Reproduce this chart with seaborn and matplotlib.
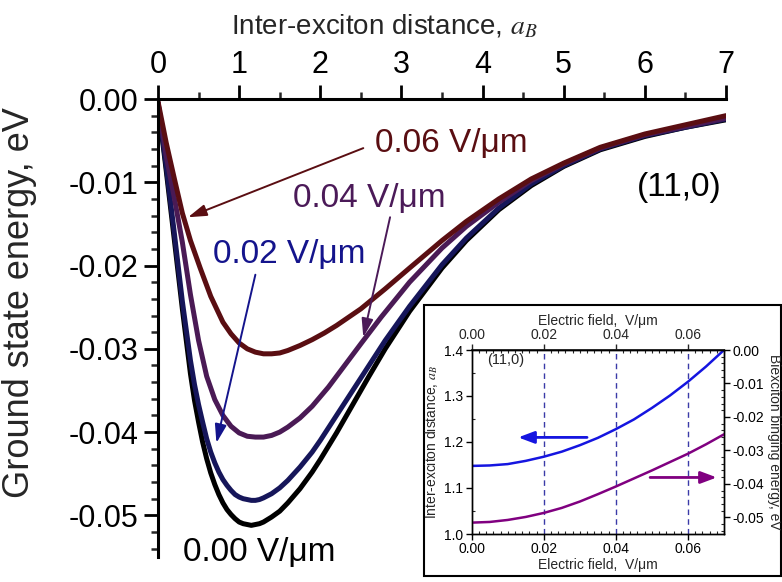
import pandas as pd
import seaborn as sns
import matplotlib.pyplot as plt
from matplotlib.patches import Rectangle
from matplotlib.ticker import MultipleLocator, FuncFormatter

# ---- main panel: ground state energy vs inter-exciton distance ----
field_labels = ["0.00 V/μm", "0.02 V/μm", "0.04 V/μm", "0.06 V/μm"]

dist_000 = [0, 0.1, 0.2, 0.3, 0.4, 0.45, 0.5, 0.55, 0.6, 0.65, 0.7, 0.75, 0.8,
            0.85, 0.9, 0.95, 1.0, 1.05, 1.1, 1.15, 1.2, 1.25, 1.3, 1.4, 1.5,
            1.6, 1.75, 1.9, 2.0, 2.2, 2.4, 2.6, 2.8, 3.1, 3.5, 3.8, 4.2, 4.6,
            5.0, 5.45, 6.0, 6.5, 7.0]
energy_000 = [-0.0005, -0.0085, -0.0168, -0.0252, -0.0330, -0.0362, -0.0388,
              -0.0412, -0.0432, -0.0449, -0.0463, -0.0475, -0.0485, -0.0493,
              -0.0499, -0.0504, -0.0508, -0.0510, -0.0511, -0.0512, -0.0511,
              -0.0510, -0.0508, -0.0502, -0.0495, -0.0485, -0.0468, -0.0448,
              -0.0433, -0.0401, -0.0367, -0.0333, -0.0300, -0.0255, -0.0203,
              -0.0170, -0.0133, -0.0104, -0.0081, -0.0061, -0.0045, -0.0034,
              -0.0025]

dist_002 = dist_000
energy_002 = [-0.0005, -0.0080, -0.0160, -0.0243, -0.0314, -0.0343, -0.0367,
              -0.0388, -0.0408, -0.0424, -0.0437, -0.0448, -0.0457, -0.0464,
              -0.0470, -0.0475, -0.0478, -0.0480, -0.0481, -0.0482, -0.0482,
              -0.0481, -0.0479, -0.0474, -0.0467, -0.0458, -0.0442, -0.0424,
              -0.0410, -0.0380, -0.0350, -0.0320, -0.0290, -0.0249, -0.0199,
              -0.0167, -0.0131, -0.0102, -0.0080, -0.0060, -0.0044, -0.0034,
              -0.0024]

dist_004 = [0, 0.1, 0.2, 0.3, 0.4, 0.5, 0.6, 0.7, 0.8, 0.9, 1.0, 1.1, 1.2, 1.3,
            1.4, 1.5, 1.6, 1.75, 1.9, 2.1, 2.3, 2.5, 2.75, 3.1, 3.5, 3.8, 4.2,
            4.6, 5.0, 5.45, 6.0, 6.5, 7.0]
energy_004 = [-0.0004, -0.0068, -0.0118, -0.0172, -0.0235, -0.0290, -0.0333,
              -0.0361, -0.0380, -0.0393, -0.0401, -0.0405, -0.0406, -0.0406,
              -0.0404, -0.0400, -0.0394, -0.0383, -0.0369, -0.0346, -0.0320,
              -0.0294, -0.0262, -0.0220, -0.0179, -0.0153, -0.0124, -0.0098,
              -0.0078, -0.0059, -0.0043, -0.0033, -0.0023]

dist_006 = [0, 0.1, 0.2, 0.3, 0.4, 0.52, 0.65, 0.8, 0.9, 1.0, 1.1, 1.2, 1.3,
            1.4, 1.5, 1.6, 1.75, 1.9, 2.05, 2.2, 2.5, 2.8, 3.1, 3.5, 3.8, 4.2,
            4.6, 5.0, 5.45, 6.0, 6.5, 7.0]
energy_006 = [-0.0003, -0.0052, -0.0095, -0.0137, -0.0170, -0.0203, -0.0237,
              -0.0268, -0.0282, -0.0293, -0.0300, -0.0304, -0.0306, -0.0306,
              -0.0305, -0.0302, -0.0296, -0.0289, -0.0281, -0.0272, -0.0252,
              -0.0228, -0.0203, -0.0170, -0.0147, -0.0120, -0.0096, -0.0077,
              -0.0058, -0.0042, -0.0031, -0.0020]

# ---- inset: vs electric field ----
field = [0, 0.005, 0.01, 0.015, 0.02, 0.025, 0.03, 0.035, 0.04, 0.045, 0.05,
         0.055, 0.06, 0.065, 0.07]
distance_min = [1.148, 1.149, 1.152, 1.159, 1.168, 1.179, 1.193, 1.209, 1.228,
                1.249, 1.274, 1.301, 1.331, 1.364, 1.400]
binding_energy = [-0.0516, -0.0514, -0.0508, -0.0499, -0.0487, -0.0472, -0.0453,
                  -0.0431, -0.0408, -0.0384, -0.0360, -0.0335, -0.0310, -0.0282,
                  -0.0252]
guide_fields = [0.02, 0.04, 0.06]

curve_colors = ["#000000", "#16165a", "#4a1a55", "#5a0e12"]
text_colors = ["#000000", "#14148c", "#4b1a58", "#5a0e12"]


def fmt(decimals):
    # plain hyphen minus and no "-0.00"
    def f(v, pos):
        if abs(v) < 1e-9:
            v = 0.0
        return f"{v:.{decimals}f}"
    return FuncFormatter(f)


sns.set_theme(style="ticks")
plt.rcParams["font.family"] = ["Liberation Sans", "DejaVu Sans"]
plt.rcParams["mathtext.fontset"] = "stix"
plt.rcParams["axes.unicode_minus"] = False

fig = plt.figure(figsize=(7.82, 5.82), dpi=100)
ax = fig.add_axes([158 / 782, 1 - 557 / 582, 568 / 782, 458 / 582])

frames = []
for lab, xs, es in zip(field_labels, [dist_000, dist_002, dist_004, dist_006],
                       [energy_000, energy_002, energy_004, energy_006]):
    frames.append(pd.DataFrame({"distance": xs, "energy": es, "field": lab}))
df_main = pd.concat(frames, ignore_index=True)

sns.lineplot(data=df_main, x="distance", y="energy", hue="field",
             hue_order=field_labels, palette=curve_colors, estimator=None,
             sort=False, linewidth=3.6, legend=False, ax=ax)
for line in ax.lines:
    line.set_solid_joinstyle("round")

ax.set_xlim(0, 7)
ax.set_ylim(-0.055, 0)
ax.xaxis.tick_top()
ax.xaxis.set_label_position("top")
ax.spines["bottom"].set_visible(False)
ax.spines["right"].set_visible(False)
for s in ["top", "left"]:
    ax.spines[s].set_linewidth(2.2)
    ax.spines[s].set_color("black")
ax.xaxis.set_major_locator(MultipleLocator(1))
ax.xaxis.set_minor_locator(MultipleLocator(0.5))
ax.yaxis.set_major_locator(MultipleLocator(0.01))
ax.yaxis.set_minor_locator(MultipleLocator(0.002))
ax.yaxis.set_major_formatter(fmt(2))
ax.tick_params(which="major", direction="out", length=10, width=2,
               labelsize=22, colors="black", pad=4)
ax.tick_params(which="minor", direction="out", length=5, width=1.8)
ax.tick_params(axis="x", which="both", top=True, bottom=False,
               labeltop=True, labelbottom=False)
ax.set_xlabel(r"Inter-exciton distance, $a_B$", fontsize=20)
ax.xaxis.set_label_coords(0.398, 1.14)
ax.set_ylabel("Ground state energy, eV", fontsize=26)
ax.yaxis.set_label_coords(-0.213, 0.555)

# curve labels and arrows
ax.text(2.68, -0.0053, field_labels[3], color=text_colors[3], fontsize=24,
        ha="left", va="center")
ax.text(1.665, -0.0119, field_labels[2], color=text_colors[2], fontsize=24,
        ha="left", va="center")
ax.text(0.68, -0.0187, field_labels[1], color=text_colors[1], fontsize=24,
        ha="left", va="center")
ax.text(0.31, -0.0545, field_labels[0], color=text_colors[0], fontsize=24,
        ha="left", va="center", clip_on=False)
ax.text(5.9, -0.0106, "(11,0)", color="black", fontsize=24,
        ha="left", va="center")

arrow_kw = dict(arrowstyle="-|>,head_length=0.7,head_width=0.22",
                lw=1.4, mutation_scale=16, shrinkA=0, shrinkB=0)
ax.annotate("", xy=(0.37, -0.0142), xytext=(2.53, -0.0059),
            arrowprops=dict(color=text_colors[3], **arrow_kw))
ax.annotate("", xy=(2.53, -0.0286), xytext=(2.86, -0.0142),
            arrowprops=dict(color=text_colors[2], **arrow_kw))
ax.annotate("", xy=(0.72, -0.0413), xytext=(1.20, -0.0211),
            arrowprops=dict(color=text_colors[1], **arrow_kw))

# ---- inset ----
box = Rectangle((424 / 782, 1 - 576 / 582), 357 / 782, 271 / 582,
                transform=fig.transFigure, facecolor="white",
                edgecolor="black", lw=1.5, zorder=2)
fig.add_artist(box)

ax_in = fig.add_axes([471.7 / 782, 1 - 534 / 582, 252.3 / 782, 184 / 582])
ax_in.set_zorder(3)
ax_r = ax_in.twinx()
ax_r.set_zorder(4)

df_in = pd.DataFrame({"field": field, "distance": distance_min,
                      "binding": binding_energy})
for f in guide_fields:
    ax_in.axvline(f, color="#3a3aa8", lw=1, ls=(0, (4, 3)))
sns.lineplot(data=df_in, x="field", y="distance", color="#1515e0",
             linewidth=1.8, ax=ax_in)
sns.lineplot(data=df_in, x="field", y="binding", color="#800080",
             linewidth=1.8, ax=ax_r)

ax_in.set_xlim(0, 0.07)
ax_in.set_ylim(1.0, 1.4)
ax_r.set_ylim(-0.055, 0)
ax_in.xaxis.set_major_locator(MultipleLocator(0.02))
ax_in.xaxis.set_minor_locator(MultipleLocator(0.002))
ax_in.xaxis.set_major_formatter(fmt(2))
ax_in.yaxis.set_major_locator(MultipleLocator(0.1))
ax_in.yaxis.set_minor_locator(MultipleLocator(0.05))
ax_in.yaxis.set_major_formatter(fmt(1))
ax_r.yaxis.set_major_locator(MultipleLocator(0.01))
ax_r.yaxis.set_minor_locator(MultipleLocator(0.002))
ax_r.yaxis.set_major_formatter(fmt(2))
for a in (ax_in, ax_r):
    a.tick_params(which="major", direction="out", length=4, width=1,
                  labelsize=10, pad=2, colors="black")
    a.tick_params(which="minor", direction="in", length=2, width=0.8)
    for s in a.spines.values():
        s.set_linewidth(1)
        s.set_color("black")

sec = ax_in.secondary_xaxis("top")
sec.xaxis.set_major_locator(MultipleLocator(0.02))
sec.xaxis.set_minor_locator(MultipleLocator(0.002))
sec.xaxis.set_major_formatter(fmt(2))
sec.tick_params(which="major", direction="out", length=4, width=1,
                labelsize=10, pad=2)
sec.tick_params(which="minor", direction="in", length=2, width=0.8)
sec.set_xlabel("Electric field,  V/μm", fontsize=10, labelpad=2)

ax_in.set_xlabel("Electric field,  V/μm", fontsize=10, labelpad=1)
ax_in.set_ylabel(r"Inter-exciton distance, $a_B$", fontsize=10, labelpad=3)
ax_r.set_ylabel("Biexciton binging energy, eV", fontsize=10, rotation=270,
                va="bottom", labelpad=2)

ax_in.text(0.0095, 1.378, "(11,0)", fontsize=10.5, ha="center", va="center")
ax_in.annotate("", xy=(0.0129, 1.21), xytext=(0.032, 1.21),
               arrowprops=dict(arrowstyle="-|>,head_length=0.8,head_width=0.3",
                               color="#1515e0", lw=2, mutation_scale=12,
                               shrinkA=0, shrinkB=0))
ax_r.annotate("", xy=(0.068, -0.0381), xytext=(0.0495, -0.0381),
              arrowprops=dict(arrowstyle="-|>,head_length=0.8,head_width=0.3",
                              color="#800080", lw=2, mutation_scale=12,
                              shrinkA=0, shrinkB=0))

fig.savefig("out.png", dpi=100)
